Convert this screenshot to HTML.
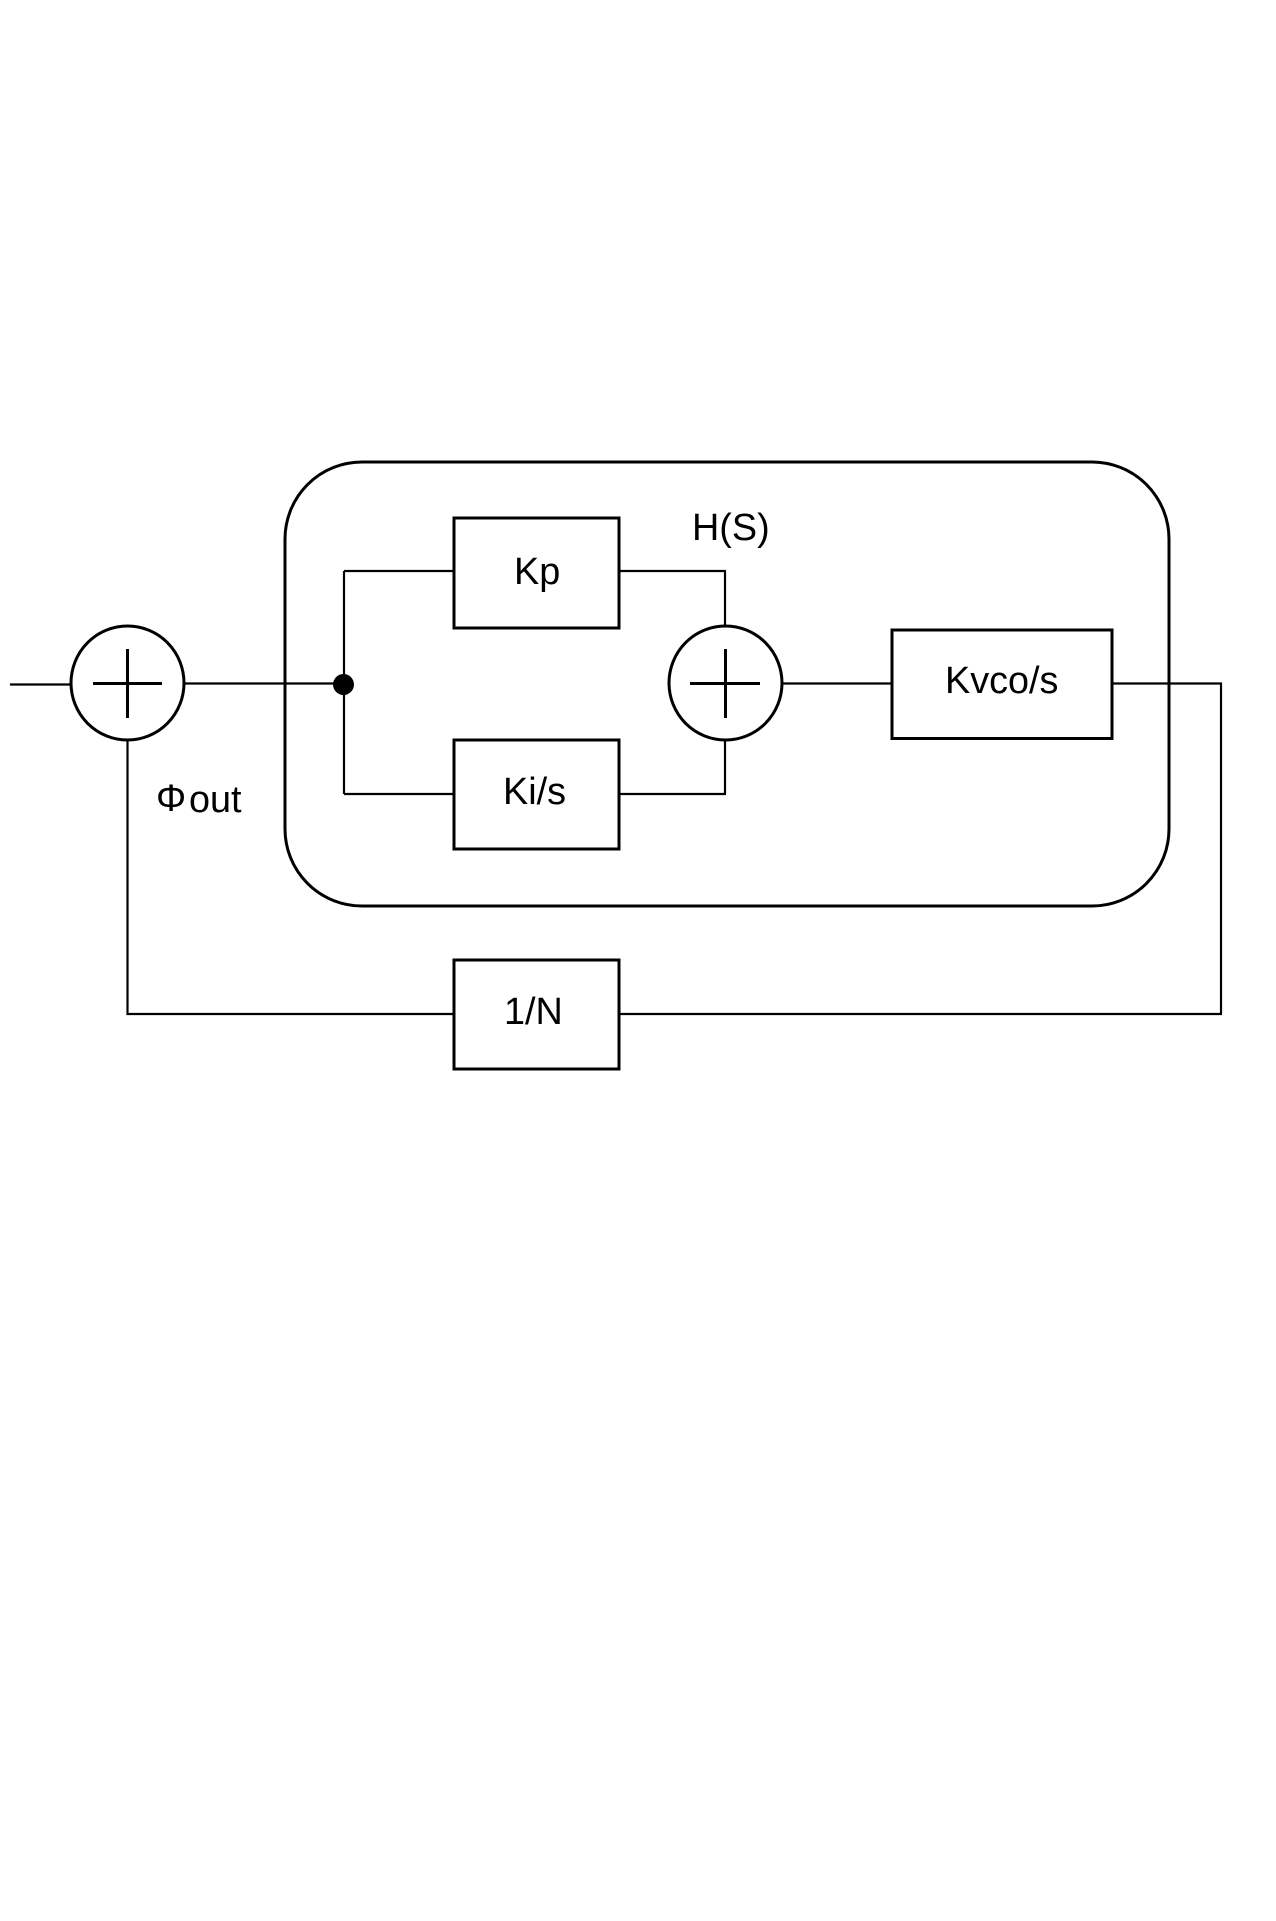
<!DOCTYPE html>
<html><head><meta charset="utf-8"><style>
html,body{margin:0;padding:0;background:#fff}
svg{display:block}
text{font-family:"Liberation Sans",sans-serif;font-size:37.8px;fill:#000}
</style></head><body>
<svg width="1276" height="1921" viewBox="0 0 1276 1921" xmlns="http://www.w3.org/2000/svg">
<rect width="1276" height="1921" fill="#fff"/>
<g fill="none" stroke="#000" stroke-width="2.2">
<path d="M10 684.5H71"/>
<path d="M184 683.5H344"/>
<path d="M344 571V794"/>
<path d="M344 571H454M344 794H454"/>
<path d="M619 571H725V626M619 794H725V740"/>
<path d="M782 683.5H892"/>
<path d="M1112 683.5H1221V1014H619M454 1014H127.5V740"/>
</g>
<g fill="none" stroke="#000" stroke-width="3">
<rect x="285" y="462" width="884" height="444" rx="77" ry="77"/>
<rect x="454" y="518" width="165" height="110"/>
<rect x="454" y="740" width="165" height="109"/>
<rect x="454" y="960" width="165" height="109"/>
<rect x="892" y="630" width="220" height="108.500"/>
<ellipse cx="127.5" cy="683" rx="56.5" ry="57" fill="#fff"/>
<ellipse cx="725.5" cy="683" rx="56.5" ry="57" fill="#fff"/>
<path d="M93 683.500H162M127.500 649V718M690 683.500H760M725.500 649V718"/>
</g>
<circle cx="343.500" cy="684.500" r="10.500" fill="#000"/>
<text x="514" y="584">Kp</text>
<text x="503" y="804">Ki/s</text>
<text x="504" y="1024">1/N</text>
<text x="945" y="693">Kvco/s</text>
<text x="692" y="540">H(S)</text>
<text x="156" y="811">Φ</text>
<text x="189" y="812">out</text>
</svg>
</body></html>
